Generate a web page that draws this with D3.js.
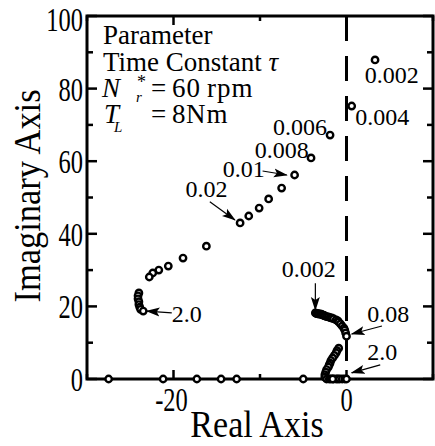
<!DOCTYPE html>
<html>
<head>
<meta charset="utf-8">
<script src="https://cdn.jsdelivr.net/npm/d3@7"></script>
<style>
  body { margin: 0; background: #fff; }
</style>
</head>
<body>
<script>
// root locus, parameter tau
const branch1Re = [3.3, 0.6, -1.9, -4.1, -6.0, -7.5, -9.0, -10.1, -11.3, -12.3, -16.2, -18.9, -20.6, -21.7, -22.4, -22.8, -24.0, -24.1, -24.1, -24.0, -24.0, -23.9, -23.8, -23.5];
const branch1Im = [87.9, 75.2, 67.2, 60.9, 56.2, 52.6, 49.6, 47.1, 44.9, 43.0, 36.6, 33.3, 31.1, 30.0, 29.2, 28.1, 23.7, 22.9, 22.1, 21.3, 20.5, 19.8, 19.2, 18.7];
const branch2Re = [-3.6, -3.5, -3.4, -3.3, -3.2, -3.0, -2.9, -2.8, -2.7, -2.6, -2.5, -2.3, -2.1, -1.9, -1.7, -1.5, -1.2, -1.0, -0.9, -0.7, -0.5, -0.3, -0.2, -0.1, 0.0];
const branch2Im = [18.2, 18.1, 18.0, 18.0, 17.9, 17.9, 17.8, 17.7, 17.6, 17.5, 17.4, 17.2, 17.1, 16.9, 16.8, 16.6, 16.3, 16.0, 15.7, 15.2, 14.6, 14.0, 13.5, 12.7, 11.8];
const branch3Re = [-0.9, -1.1, -1.2, -1.4, -1.6, -1.8, -1.9, -2.0, -2.1, -2.3, -2.4, -2.5, -2.5, -2.3, -2.0, -1.8, -1.5, -1.2, -1.0, -0.8, -0.5, -0.2, 0.0];
const branch3Im = [8.5, 7.8, 7.2, 6.5, 5.8, 5.1, 4.4, 3.9, 3.3, 2.6, 1.9, 1.2, 0.5, 0, 0, 0, 0, 0, 0, 0, 0, 0, 0];
const realRoots = [-27.5, -21.2, -17.3, -14.5, -12.7, -5.0, -1.6];

const xTicks = [-30, -20, -10, 0, 10];
const xTickLabels = ["", "-20", "", "0", ""];
const yTicks = [0, 10, 20, 30, 40, 50, 60, 70, 80, 90, 100];

// labels: text, anchor point (re, im)
const annoText = ["0.002", "0.004", "0.006", "0.008", "0.01", "0.02", "0.002", "0.08", "2.0", "2.0"];
const annoRe = [2.1, 1.0, -8.5, -10.6, -14.3, -18.6, -7.5, 2.4, 2.4, -20.2];
const annoIm = [81.5, 70.0, 67.2, 60.9, 55.6, 50.1, 28.1, 15.7, 5.2, 15.7];
// arrows: from (re, im) to (re, im)
const arrowFromRe = [-9.7, -15.8, -3.6, 4.1, 3.9, -20.2];
const arrowFromIm = [57.3, 48.8, 26.4, 14.6, 3.9, 18.2];
const arrowToRe = [-6.9, -12.9, -3.6, 0.6, 0.6, -23.1];
const arrowToIm = [56.2, 43.8, 19.0, 12.4, 1.7, 18.7];

const W = 435, H = 446;
const serif = "'Liberation Serif', 'Times New Roman', Tinos, Times, serif";
const x = d3.scaleLinear().domain([-30, 10]).range([87, 433]);
const y = d3.scaleLinear().domain([0, 100]).range([379, 16]);

const svg = d3.select("body").append("svg")
  .attr("width", W).attr("height", H)
  .attr("font-family", serif);

svg.append("defs").append("marker")
  .attr("id", "ah")
  .attr("markerUnits", "userSpaceOnUse")
  .attr("viewBox", "0 -5 14 10")
  .attr("refX", 13).attr("refY", 0)
  .attr("markerWidth", 14).attr("markerHeight", 10)
  .attr("orient", "auto")
  .append("path").attr("d", "M0,-4.5L14,0L0,4.5L3,0Z").attr("fill", "#000");

// dashed line at Re = 0
svg.append("line")
  .attr("x1", x(0)).attr("x2", x(0))
  .attr("y1", y(100)).attr("y2", y(0))
  .attr("stroke", "#000").attr("stroke-width", 3)
  .attr("stroke-dasharray", "25,15");

// ticks (inward, all four sides)
const tk = svg.append("g").attr("stroke", "#000").attr("stroke-width", 2.5);
xTicks.forEach(v => {
  const len = v % 20 === 0 ? 9 : 5;
  tk.append("line").attr("x1", x(v)).attr("x2", x(v)).attr("y1", y(0)).attr("y2", y(0) - len);
  tk.append("line").attr("x1", x(v)).attr("x2", x(v)).attr("y1", y(100)).attr("y2", y(100) + len);
});
yTicks.forEach(v => {
  const len = v % 20 === 0 ? 10 : 6;
  tk.append("line").attr("x1", x(-30)).attr("x2", x(-30) + len).attr("y1", y(v)).attr("y2", y(v));
  tk.append("line").attr("x1", x(10)).attr("x2", x(10) - len).attr("y1", y(v)).attr("y2", y(v));
});

// frame
svg.append("rect")
  .attr("x", x(-30)).attr("y", y(100))
  .attr("width", x(10) - x(-30)).attr("height", y(0) - y(100))
  .attr("fill", "none").attr("stroke", "#000").attr("stroke-width", 3);

// tick labels (narrow serif)
yTicks.filter(v => v % 20 === 0).forEach(v => {
  svg.append("text")
    .attr("transform", `translate(${x(-30) - 4},${y(v) + (v === 100 ? 15 : 12)}) scale(0.72,1)`)
    .attr("text-anchor", "end")
    .attr("font-size", 34)
    .text(v);
});
xTicks.forEach((v, i) => {
  if (!xTickLabels[i]) return;
  svg.append("text")
    .attr("transform", `translate(${x(v) - (v < 0 ? 2 : 0)},${y(0) + 32}) scale(0.72,1)`)
    .attr("text-anchor", "middle")
    .attr("font-size", 34)
    .text(xTickLabels[i]);
});

// axis titles
svg.append("text")
  .attr("transform", "translate(257,437) scale(0.92,1)")
  .attr("text-anchor", "middle").attr("font-size", 37)
  .text("Real Axis");
svg.append("text")
  .attr("transform", "translate(40,196) rotate(-90) scale(0.93,1)")
  .attr("text-anchor", "middle").attr("font-size", 37)
  .text("Imaginary Axis");

// legend block
const lg = svg.append("g").attr("font-size", 27);
lg.append("text").attr("x", 103).attr("y", 44).text("Parameter");
const l2 = lg.append("text").attr("x", 103).attr("y", 71);
l2.append("tspan").text("Time Constant ");
l2.append("tspan").attr("font-style", "italic").text("τ");
lg.append("text").attr("x", 102).attr("y", 97).attr("font-style", "italic").text("N");
lg.append("text").attr("x", 137).attr("y", 88).attr("font-size", 18).text("*");
lg.append("text").attr("x", 136).attr("y", 102).attr("font-size", 15).attr("font-style", "italic").text("r");
lg.append("text").attr("x", 151).attr("y", 97).text("=");
lg.append("text").attr("x", 172).attr("y", 97).attr("letter-spacing", 1).text("60");
lg.append("text").attr("x", 207).attr("y", 97).attr("letter-spacing", 1).text("rpm");
lg.append("text").attr("x", 104).attr("y", 123).attr("font-style", "italic").text("T");
lg.append("text").attr("x", 114).attr("y", 132).attr("font-size", 15).attr("font-style", "italic").text("L");
lg.append("text").attr("x", 151).attr("y", 123).text("=");
lg.append("text").attr("x", 172).attr("y", 123).text("8");
lg.append("text").attr("x", 186).attr("y", 123).attr("letter-spacing", 1).text("Nm");

// annotations
annoText.forEach((t, i) => {
  svg.append("text")
    .attr("x", x(annoRe[i])).attr("y", y(annoIm[i]))
    .attr("font-size", 24)
    .text(t);
});
arrowFromRe.forEach((v, i) => {
  svg.append("line")
    .attr("x1", x(v)).attr("y1", y(arrowFromIm[i]))
    .attr("x2", x(arrowToRe[i])).attr("y2", y(arrowToIm[i]))
    .attr("stroke", "#000").attr("stroke-width", 1.2)
    .attr("marker-end", "url(#ah)");
});

// roots
const pts = [];
branch1Re.forEach((v, i) => pts.push([v, branch1Im[i]]));
branch2Re.forEach((v, i) => pts.push([v, branch2Im[i]]));
branch3Re.forEach((v, i) => pts.push([v, branch3Im[i]]));
realRoots.forEach(v => pts.push([v, 0]));

svg.append("g").selectAll("circle")
  .data(pts)
  .enter()
  .append("circle")
  .attr("cx", d => x(d[0]))
  .attr("cy", d => y(d[1]))
  .attr("r", 3.2)
  .attr("fill", "#fff")
  .attr("stroke", "#000")
  .attr("stroke-width", 2.4);
</script>
</body>
</html>
